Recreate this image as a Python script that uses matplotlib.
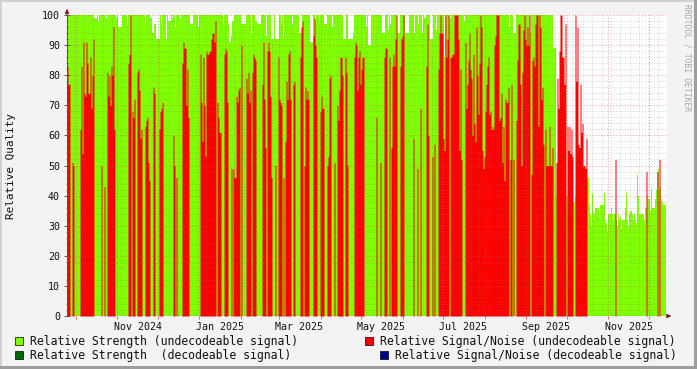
import matplotlib
matplotlib.use("Agg")
import matplotlib.pyplot as plt
import matplotlib.dates as mdates
from matplotlib.patches import Rectangle
from datetime import datetime, timedelta

W, H = 697, 369

# rrd archive, consolidated to one sample per pixel column
t_start = datetime(2024, 9, 24, 12)
t_step = timedelta(days=446.1 / 600)
n_cols = 600
data_end = 599

# Relative Strength (undecodeable signal), runs of (first sample, value)
strength_idx = [0, 27, 30, 31, 32, 39, 40, 49, 50, 51, 55, 60, 61, 78, 79, 83, 85, 87, 89, 93,
                94, 95, 99, 100, 101, 104, 105, 106, 108, 109, 113, 114, 123, 126, 131, 132,
                156, 157, 161, 162, 164, 165, 167, 174, 179, 184, 185, 188, 190, 194, 199,
                200, 204, 207, 208, 212, 214, 215, 216, 217, 225, 226, 232, 235, 243, 246,
                248, 249, 252, 253, 257, 260, 265, 266, 276, 279, 281, 286, 287, 299, 300,
                301, 304, 315, 318, 321, 322, 323, 324, 330, 333, 338, 342, 347, 348, 351,
                352, 355, 356, 357, 359, 363, 366, 369, 370, 377, 378, 383, 384, 397, 398,
                442, 443, 446, 449, 463, 464, 486, 489, 506, 508, 520, 522, 523, 524, 525,
                526, 527, 528, 532, 533, 537, 538, 539, 540, 541, 544, 545, 546, 547, 549,
                550, 551, 552, 553, 554, 555, 558, 559, 560, 561, 562, 563, 565, 566, 567,
                568, 569, 570, 571, 572, 577, 578, 580, 581, 583, 584, 585, 588, 589, 590,
                591, 592, 593, 594, 595, 596]
strength_val = [100, 99, 100, 98, 100, 99, 100, 99, 100, 96, 100, 97, 100, 97, 100, 99, 94, 97, 92, 100,
                97, 100, 92, 100, 98, 100, 99, 100, 96, 100, 99, 100, 97, 100, 96, 100,
                97, 100, 97, 91, 93, 98, 100, 97, 100, 94, 100, 98, 97, 100, 93,
                100, 92, 100, 92, 100, 97, 100, 93, 100, 97, 100, 94, 100, 91, 100,
                98, 100, 97, 100, 97, 100, 96, 100, 92, 100, 92, 94, 100, 96, 100,
                90, 100, 94, 100, 95, 100, 97, 100, 94, 100, 94, 100, 94, 100, 97,
                100, 94, 100, 99, 100, 92, 100, 95, 100, 86, 100, 99, 100, 98, 100,
                96, 100, 94, 100, 94, 100, 89, 40, 38, 40, 46, 37, 34, 30, 41,
                35, 34, 36, 33, 37, 41, 32, 31, 28, 34, 36, 34, 32, 34, 32,
                30, 34, 32, 33, 29, 32, 36, 41, 32, 30, 34, 35, 34, 32, 34,
                32, 31, 47, 40, 34, 32, 36, 40, 39, 35, 42, 36, 39, 42, 48,
                49, 42, 43, 39, 38, 37]

# Relative Signal/Noise (undecodeable signal), runs of (first sample, value)
snr_idx = [0, 1, 3, 5, 6, 7, 13, 14, 15, 16, 17, 18, 19, 20, 21, 23, 24, 25, 26, 27,
           34, 35, 37, 38, 40, 41, 42, 43, 44, 45, 46, 47, 48, 61, 62, 63, 64, 65, 66, 67,
           68, 70, 71, 72, 73, 74, 75, 78, 79, 80, 81, 82, 83, 86, 87, 88, 92, 93, 94, 95,
           96, 106, 107, 108, 109, 110, 115, 116, 117, 119, 120, 121, 122, 133, 134, 135,
           136, 137, 138, 139, 140, 142, 144, 145, 147, 148, 149, 150, 151, 152, 154, 157,
           158, 159, 160, 161, 164, 165, 166, 167, 169, 170, 171, 172, 173, 174, 175, 179,
           180, 181, 182, 183, 184, 185, 186, 187, 188, 189, 195, 196, 197, 198, 199, 200,
           201, 202, 203, 204, 205, 208, 209, 211, 212, 213, 214, 215, 216, 217, 218, 219,
           220, 221, 222, 223, 224, 226, 227, 228, 233, 234, 235, 236, 237, 238, 239, 240,
           241, 242, 246, 247, 248, 249, 250, 253, 254, 255, 257, 260, 261, 262, 263, 264,
           267, 268, 270, 271, 272, 273, 275, 276, 278, 279, 280, 281, 287, 288, 289, 290,
           291, 292, 293, 294, 295, 297, 309, 310, 313, 314, 317, 318, 320, 322, 323, 324,
           325, 326, 327, 328, 329, 330, 333, 334, 335, 336, 337, 346, 347, 350, 351, 353,
           354, 359, 360, 361, 362, 365, 366, 367, 368, 371, 372, 373, 374, 376, 377, 378,
           379, 380, 381, 382, 383, 385, 387, 391, 392, 393, 394, 395, 398, 399, 400, 401,
           402, 403, 404, 405, 406, 407, 408, 409, 410, 411, 412, 413, 414, 415, 416, 417,
           418, 419, 420, 421, 422, 423, 424, 425, 426, 427, 428, 429, 432, 433, 434, 435,
           436, 437, 438, 439, 441, 442, 443, 444, 445, 446, 447, 449, 450, 451, 453, 454,
           455, 456, 457, 458, 459, 460, 461, 462, 463, 464, 465, 466, 467, 468, 469, 471,
           472, 473, 474, 475, 476, 477, 478, 479, 482, 483, 485, 486, 489, 490, 491, 492,
           493, 495, 497, 498, 499, 500, 501, 502, 503, 504, 505, 506, 508, 509, 510, 511,
           512, 513, 514, 515, 516, 518, 519, 520, 548, 549, 579, 580, 590, 591, 592, 593]
snr_val = [83, 77, 0, 51, 50, 0, 62, 83, 54, 91, 74, 73, 91, 84, 74, 86, 69, 80, 92, 0,
           50, 0, 43, 0, 81, 73, 80, 70, 83, 80, 96, 62, 0, 84, 87, 100, 0, 68, 66, 72,
           0, 81, 82, 75, 59, 62, 0, 63, 65, 66, 51, 45, 0, 76, 74, 0, 62, 68, 69, 71,
           0, 60, 50, 0, 46, 0, 84, 91, 89, 70, 82, 66, 0, 87, 71, 58,
           86, 70, 53, 88, 87, 88, 92, 94, 91, 98, 0, 71, 66, 61, 0, 87,
           89, 88, 71, 0, 49, 0, 49, 46, 73, 71, 75, 76, 0, 90, 0, 79,
           74, 81, 71, 75, 0, 81, 87, 86, 85, 0, 77, 91, 72, 56, 0, 88,
           91, 88, 73, 46, 0, 50, 0, 86, 72, 71, 70, 0, 46, 0, 58, 78,
           72, 87, 88, 72, 0, 77, 78, 0, 86, 96, 98, 0, 50, 76, 72, 75,
           72, 0, 93, 99, 90, 86, 0, 68, 73, 69, 0, 50, 53, 79, 80, 0,
           51, 0, 70, 65, 75, 86, 80, 0, 86, 81, 50, 0, 86, 91, 90, 75,
           86, 88, 77, 82, 86, 0, 66, 0, 51, 0, 86, 89, 0, 86, 0, 56,
           83, 87, 83, 92, 100, 0, 83, 92, 93, 100, 0, 59, 0, 49, 0, 69,
           0, 83, 97, 60, 0, 53, 0, 57, 0, 82, 94, 100, 94, 59, 55, 100,
           86, 92, 100, 0, 86, 87, 100, 92, 55, 82, 52, 0, 91, 69, 77, 85,
           94, 82, 79, 60, 87, 64, 58, 96, 80, 67, 84, 100, 96, 55, 49, 53,
           68, 77, 83, 86, 67, 68, 62, 63, 62, 90, 93, 100, 65, 66, 74, 51,
           63, 45, 72, 71, 76, 0, 52, 77, 0, 52, 0, 65, 85, 97, 77, 50,
           81, 95, 100, 92, 90, 96, 90, 100, 0, 47, 85, 86, 83, 97, 100, 63,
           100, 96, 72, 76, 57, 0, 62, 50, 63, 50, 56, 0, 51, 79, 69, 88,
           100, 86, 77, 97, 0, 63, 55, 63, 54, 62, 53, 0, 100, 78, 96, 57,
           56, 77, 61, 64, 50, 49, 59, 0, 52, 0, 48, 0, 48, 0, 52, 0]

legend_labels = ["Relative Strength (undecodeable signal)",
                 "Relative Signal/Noise (undecodeable signal)",
                 "Relative Strength  (decodeable signal)",
                 "Relative Signal/Noise (decodeable signal)"]
legend_colors = ["#80FF00", "#FF0000", "#006400", "#000099"]

plt.rcParams["font.family"] = "DejaVu Sans Mono"


def fx(x):
    return x / W


def fy(y):
    return 1 - y / H


def runs_to_steps(idx, val):
    x = [mdates.date2num(t_start + i * t_step) for i in idx + [data_end]]
    return x, val + [val[-1]]


fig = plt.figure(figsize=(W / 100, H / 100), dpi=100, facecolor="#F3F3F3")
ax = fig.add_axes([fx(67), fy(316), fx(600), 301 / H])
ax.set_facecolor("white")

x_end = t_start + n_cols * t_step
ax.set_xlim(t_start, x_end)
ax.set_ylim(0, 100)

sx, sy = runs_to_steps(strength_idx, strength_val)
ax.fill_between(sx, sy, step="post", color=legend_colors[0], lw=0, zorder=1)
rx, ry = runs_to_steps(snr_idx, snr_val)
ax.fill_between(rx, ry, step="post", color=legend_colors[1], lw=0, zorder=2)

# grid: weeks / months, 2 / 10 units
lmin = mdates.date2num(t_start)
lmax = mdates.date2num(x_end)
for d in mdates.WeekdayLocator(byweekday=mdates.MO).tick_values(t_start, x_end):
    if lmin < d < lmax:
        ax.axvline(d, color="#7F7F7F", alpha=0.35, lw=0.7, ls=(0, (1, 2)), zorder=3)
for d in mdates.MonthLocator().tick_values(t_start, x_end):
    if lmin < d < lmax:
        ax.axvline(d, color="#E05050", alpha=0.55, lw=0.7, ls=(0, (1, 2)), zorder=3)
for v in range(2, 101, 2):
    if v % 10:
        ax.axhline(v, color="#7F7F7F", alpha=0.35, lw=0.7, ls=(0, (1, 2)), zorder=3)
    else:
        ax.axhline(v, color="#E05050", alpha=0.55, lw=0.7, ls=(0, (1, 2)), zorder=3)

for s in ax.spines.values():
    s.set_visible(False)
ax.axhline(0, color="#222222", lw=0.8, zorder=4)
ax.axvline(lmin, color="#555555", lw=0.8, zorder=4)
ax.annotate("", xy=(0, 1.03), xytext=(0, 0.99), xycoords="axes fraction",
            arrowprops=dict(arrowstyle="-|>", color="#8B1A1A", lw=0.8, mutation_scale=6))
ax.annotate("", xy=(1.012, 0), xytext=(0.995, 0), xycoords="axes fraction",
            arrowprops=dict(arrowstyle="-|>", color="#8B1A1A", lw=0.8, mutation_scale=6))

ax.set_yticks(range(0, 101, 10))
ax.set_yticks(range(0, 101, 2), minor=True)
ax.tick_params(axis="y", which="major", direction="inout", length=4, width=0.7,
               color="#555555", pad=3, labelsize=7.2, labelcolor="#111111")
ax.tick_params(axis="y", which="minor", direction="inout", length=2, width=0.6, color="#777777")

ax.xaxis.set_major_locator(mdates.MonthLocator(bymonth=[1, 3, 5, 7, 9, 11], bymonthday=16))
ax.xaxis.set_major_formatter(mdates.DateFormatter("%b %Y"))
ax.xaxis.set_minor_locator(mdates.MonthLocator())
ax.tick_params(axis="x", which="major", length=0, pad=4, labelsize=7.2, labelcolor="#111111")
ax.tick_params(axis="x", which="minor", direction="out", length=2.5, width=0.6, color="#E05050")

fig.text(fx(11), fy(166), "Relative Quality", rotation=90, ha="center", va="center",
         fontsize=7.9, color="#111111")
fig.text(fx(687), fy(4), "RRDTOOL / TOBI OETIKER", rotation=270, ha="center", va="top",
         fontsize=5.8, color="#A8A8A8")

# legend, two rows
boxes = [(15, 337), (365, 337), (15, 351), (380, 351)]
texts = [(30, 341.5), (380, 341.5), (30, 355.5), (395, 355.5)]
for (bx, by), (tx, ty), lab, col in zip(boxes, texts, legend_labels, legend_colors):
    fig.add_artist(Rectangle((fx(bx), fy(by + 8)), 8 / W, 8 / H, transform=fig.transFigure,
                             fc=col, ec="#000000", lw=0.5))
    fig.text(fx(tx), fy(ty), lab, ha="left", va="center", fontsize=8.3, color="#111111")

# shaded frame
fig.add_artist(Rectangle((0, fy(2)), 1, 2 / H, transform=fig.transFigure, fc="#D0D0D0", lw=0))
fig.add_artist(Rectangle((0, 0), 2 / W, 1, transform=fig.transFigure, fc="#D0D0D0", lw=0))
fig.add_artist(Rectangle((0, 0), 1, 3 / H, transform=fig.transFigure, fc="#9E9E9E", lw=0))
fig.add_artist(Rectangle((fx(694), 0), 3 / W, 1, transform=fig.transFigure, fc="#9E9E9E", lw=0))

fig.savefig("out.png", dpi=100, facecolor=fig.get_facecolor())
